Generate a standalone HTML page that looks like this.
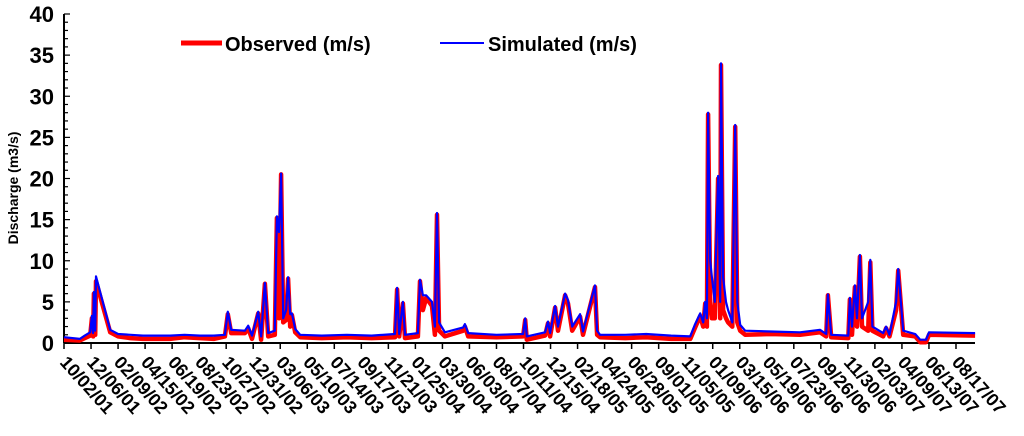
<!DOCTYPE html>
<html><head><meta charset="utf-8"><style>
body{margin:0;background:#fff;}
svg{display:block;font-family:"Liberation Sans",sans-serif;font-weight:bold;}
</style></head><body>
<svg id="chart" width="1024" height="436">
</svg>
<script>
const days=[0,38,50,63,67,70,72,75,77,111,130,160,190,255,290,327,360,387,394,402,435,443,452,467,474,483,491,507,512,517,522,527,534,539,544,548,556,568,620,680,740,796,801,806,815,820,851,856,863,871,885,892,897,902,916,960,964,972,1040,1104,1109,1113,1157,1164,1169,1181,1188,1205,1212,1222,1241,1248,1277,1282,1289,1350,1400,1460,1506,1517,1530,1537,1542,1546,1549,1554,1558,1565,1573,1578,1580,1585,1592,1597,1607,1614,1619,1626,1638,1700,1770,1818,1833,1837,1845,1886,1890,1895,1902,1907,1914,1919,1934,1939,1944,1970,1977,1985,2001,2006,2018,2047,2059,2073,2080,2191];
const observed=[.4,.3,.6,.9,3,.8,6,1,7.5,1.3,.8,.6,.5,.5,.7,.6,.5,.8,3.5,1.2,1.2,1.8,.5,3.6,.4,7.2,.8,1,15.2,3,20.5,2.5,2.8,7.8,2,3.4,1.3,.7,.6,.7,.6,.7,6.5,.8,4.8,.6,.8,7.5,4,5.5,4.5,1,15.6,1.5,.8,1.5,2,.8,.7,.8,2.8,.4,.9,2.4,.8,4.3,1.5,5.8,4.8,1.5,3.2,1,6.8,1,.7,.6,.7,.5,.5,1.8,3.3,2,4.8,2,27.8,5,3,3,20,3,33.8,4,3,2.5,2,26.3,2.5,1.5,1,1.1,1,1.3,.8,5.8,.7,.6,5.3,1,6.8,2,10.5,2,1.5,9.8,1.5,.8,1.8,.8,4,8.8,1,.8,.1,.1,1,.9];
const simulated=[.7,.5,.9,1.3,3.3,1.2,6.2,1.5,8.1,1.6,1.1,1,.9,.9,1,.9,.9,1,3.8,1.6,1.5,2.1,.9,3.8,.8,7.3,1.2,1.5,15.4,13.5,20.6,3,4,8,3.5,3.6,1.7,1,.9,1,.9,1.1,6.7,1.1,5,1,1.2,7.7,5.8,5.8,5,2,15.8,2.5,1.3,1.9,2.3,1.2,1,1.1,3,.8,1.3,2.6,1.2,4.5,2,6,5.2,2,3.5,1.4,7,1.5,1,1,1.1,.9,.8,2.2,3.6,2.5,5,3,28,10,8,5,20.3,5,34,8,5,4,2.5,26.5,5,2.2,1.5,1.4,1.3,1.6,1.1,5.9,1,.9,5.5,2,7,3,10.7,3,5,10.1,2,1.2,2,1,5,9,1.5,1.1,.4,.4,1.3,1.2];
const yTicks=[0,5,10,15,20,25,30,35,40];
const xLabels=["10/02/01","12/06/01","02/09/02","04/15/02","06/19/02","08/23/02","10/27/02","12/31/02","03/06/03","05/10/03","07/14/03","09/17/03","11/21/03","01/25/04","03/30/04","06/03/04","08/07/04","10/11/04","12/15/04","02/18/05","04/24/05","06/28/05","09/01/05","11/05/05","01/09/06","03/15/06","05/19/06","07/23/06","09/26/06","11/30/06","02/03/07","04/09/07","06/13/07","08/17/07"];
const X0=64,Y0=343,PXD=27.03/65,PYU=(343-14)/40;
const xs=d=>X0+d*PXD, ys=v=>Y0-v*PYU;
const svg=document.getElementById('chart');
const NS="http://www.w3.org/2000/svg";
function mk(t,a){const e=document.createElementNS(NS,t);for(const k in a)e.setAttribute(k,a[k]);svg.appendChild(e);return e;}
let e=mk('line',{x1:X0,y1:14,x2:X0,y2:Y0,stroke:'#000','stroke-width':2});


e=mk('line',{x1:X0,y1:Y0,x2:975,y2:Y0,stroke:'#000','stroke-width':2});


for(let v=0;v<=40;v++){
  e=mk('line',{x1:X0,y1:ys(v),x2:X0+(v%5==0?6:4),y2:ys(v),stroke:'#000','stroke-width':1.2});
  
  
}
yTicks.forEach(v=>{
  const t=mk('text',{x:X0-10,y:ys(v)+8,'text-anchor':'end','font-size':22});
  t.textContent=v;
  
  
});
xLabels.forEach((l,i)=>{
  const x=X0+i*65*PXD;
  e=mk('line',{x1:x,y1:Y0,x2:x,y2:Y0+6,stroke:'#000','stroke-width':1.5});
  
  
  const t=mk('text',{x:x-5,y:Y0+20,'font-size':18,transform:`rotate(48 ${x-5} ${Y0+20})`});
  t.textContent=l;
  
  
});
const yt=mk('text',{x:18,y:188,'text-anchor':'middle','font-size':14,transform:'rotate(-90 18 188)'});
yt.textContent='Discharge (m3/s)';


const pts=a=>days.map((d,i)=>xs(d).toFixed(1)+','+ys(a[i]).toFixed(1)).join(' ');
e=mk('polyline',{points:pts(observed),fill:'none',stroke:'#ff0000','stroke-width':4.5,'stroke-linejoin':'round'});


e=mk('polyline',{points:pts(simulated),fill:'none',stroke:'#0000ff','stroke-width':2.2,'stroke-linejoin':'round'});


e=mk('line',{x1:181,y1:43,x2:222,y2:43,stroke:'#ff0000','stroke-width':5});


let t=mk('text',{x:225,y:51,'font-size':20});t.textContent='Observed (m/s)';


e=mk('line',{x1:440,y1:43,x2:484,y2:43,stroke:'#0000ff','stroke-width':2});


t=mk('text',{x:488,y:51,'font-size':20});t.textContent='Simulated (m/s)';


</script>
</body></html>
